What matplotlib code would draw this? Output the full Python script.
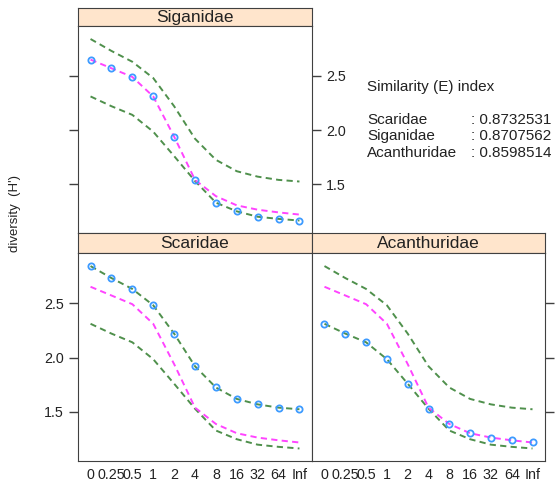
import matplotlib.pyplot as plt
import numpy as np

plt.rcParams["font.family"] = ["Liberation Sans", "DejaVu Sans"]

# diversity (H') at each scale step, per family
x_labels = ["0", "0.25", "0.5", "1", "2", "4", "8", "16", "32", "64", "Inf"]
scaridae = [2.84, 2.73, 2.63, 2.48, 2.22, 1.92, 1.725, 1.62, 1.57, 1.54, 1.525]
siganidae = [2.65, 2.57, 2.49, 2.31, 1.94, 1.54, 1.33, 1.25, 1.20, 1.18, 1.165]
acanthuridae = [2.31, 2.22, 2.14, 1.985, 1.76, 1.53, 1.39, 1.305, 1.265, 1.24, 1.22]

families = ["Scaridae", "Siganidae", "Acanthuridae"]
similarity = ["0.8732531", "0.8707562", "0.8598514"]

W, H = 555, 484
x = np.arange(len(x_labels))
stack = np.array([scaridae, siganidae, acanthuridae])
upper = stack.max(axis=0)
middle = np.median(stack, axis=0)
lower = stack.min(axis=0)

fig = plt.figure(figsize=(W / 100, H / 100), dpi=100)


def box(x0, y0, x1, y1):
    # pixel box (top-left origin) -> figure fraction rect
    return [x0 / W, 1 - y1 / H, (x1 - x0) / W, (y1 - y0) / H]


def panel(rect, strip_rect, name, values):
    st = fig.add_axes(strip_rect)
    st.set_facecolor("#ffe5cc")
    st.set_xticks([])
    st.set_yticks([])
    for s in st.spines.values():
        s.set_color("#404040")
    st.text(0.5, 0.45, name, ha="center", va="center", fontsize=12.5,
            color="#222222", transform=st.transAxes)

    ax = fig.add_axes(rect)
    for s in ax.spines.values():
        s.set_color("#404040")
    dash = (0, (3.2, 2.2))
    ax.plot(x, upper, color="#4f904c", lw=1.4, ls=dash)
    ax.plot(x, lower, color="#4f904c", lw=1.4, ls=dash)
    ax.plot(x, middle, color="#ff44ff", lw=1.4, ls=dash)
    ax.plot(x, values, ls="none", marker="o", ms=4.5, mfc="none",
            mec="#3d9bff", mew=1.3)
    ax.set_xlim(-0.6, 10.6)
    ax.set_ylim(1.05, 2.96)
    ax.set_yticks([1.5, 2.0, 2.5])
    ax.set_yticklabels(["1.5", "2.0", "2.5"])
    ax.set_xticks(x)
    ax.set_xticklabels(x_labels)
    ax.tick_params(labelsize=10.3, colors="#222222", length=6.5,
                   width=1, direction="out")
    ax.tick_params(axis="y", color="#404040")
    ax.tick_params(axis="x", length=0, pad=5)
    return ax


ax_sig = panel(box(78, 26, 312, 233), box(78, 8, 312, 26), "Siganidae", siganidae)
ax_sig.tick_params(axis="x", labelbottom=False)
ax_sig.tick_params(axis="y", left=True, labelleft=False, right=True, labelright=True)

ax_sca = panel(box(78, 253, 312, 461), box(78, 233, 312, 253), "Scaridae", scaridae)
ax_sca.tick_params(axis="y", left=True, labelleft=True, right=False)

ax_aca = panel(box(312, 253, 545, 461), box(312, 233, 545, 253), "Acanthuridae", acanthuridae)
ax_aca.tick_params(axis="y", left=False, labelleft=False, right=True, labelright=False)

fig.text(15 / W, 1 - 214 / H, "diversity  (H')", rotation=90, ha="center",
         va="center", fontsize=9.5, color="#222222")

# similarity index block in the empty top-right cell
fig.text(367 / W, 1 - 87 / H, "Similarity (E) index", fontsize=11,
         color="#222222", va="center")
for i, (fam, val) in enumerate(zip(families, similarity)):
    yy = 1 - (120 + i * 16.5) / H
    fig.text(367 / W, yy, fam, fontsize=11, color="#222222", va="center")
    fig.text(471 / W, yy, ": " + val, fontsize=11, color="#222222", va="center")

fig.savefig("out.png", dpi=100)
